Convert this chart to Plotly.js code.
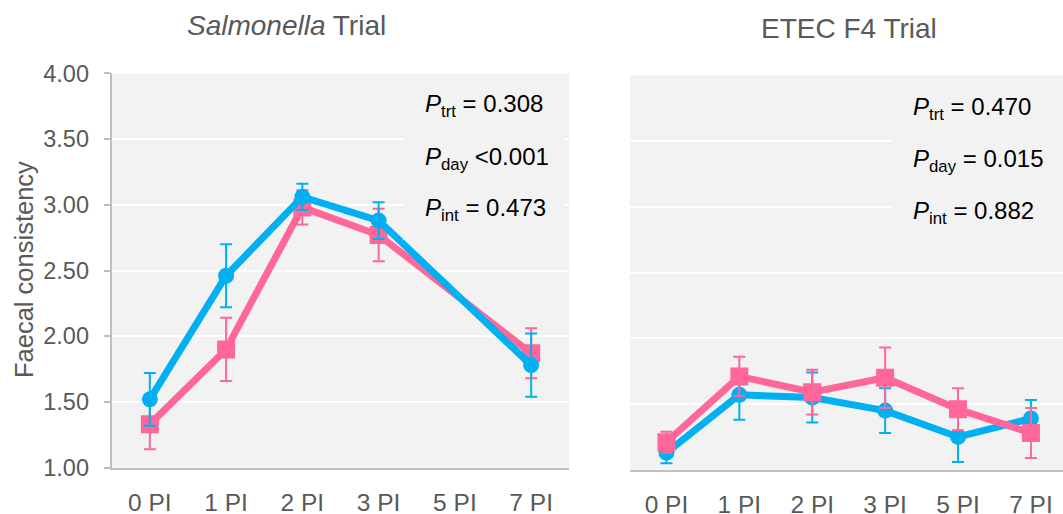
<!DOCTYPE html>
<html>
<head>
<meta charset="utf-8">
<script src="https://cdn.plot.ly/plotly-3.0.1.min.js"></script>
<style>html,body{margin:0;padding:0;background:#fff;}#chart{width:1063px;height:514px;}</style>
</head>
<body>
<div id="chart"></div>
<script>
// ---- data ----
const days = ['0 PI', '1 PI', '2 PI', '3 PI', '5 PI', '7 PI'];
const yTicks = [1.0, 1.5, 2.0, 2.5, 3.0, 3.5, 4.0];

// Salmonella trial (no 5 PI sample)
const salBlue = [1.52, 2.46, 3.06, 2.88, null, 1.78];
const salBlueErr = [0.20, 0.24, 0.10, 0.14, null, 0.24];
const salPink = [1.33, 1.90, 2.98, 2.77, null, 1.87];
const salPinkErr = [0.19, 0.24, 0.13, 0.20, null, 0.19];

// ETEC F4 trial
const etecBlue = [1.13, 1.57, 1.55, 1.45, 1.25, 1.39];
const etecBlueErr = [0.08, 0.19, 0.19, 0.17, 0.19, 0.14];
const etecPink = [1.21, 1.71, 1.59, 1.70, 1.46, 1.28];
const etecPinkErr = [0.08, 0.15, 0.17, 0.23, 0.16, 0.19];

const salStats = ['<i>P</i><sub>trt</sub> = 0.308', '<i>P</i><sub>day</sub> &lt;0.001', '<i>P</i><sub>int</sub> = 0.473'];
const etecStats = ['<i>P</i><sub>trt</sub> = 0.470', '<i>P</i><sub>day</sub> = 0.015', '<i>P</i><sub>int</sub> = 0.882'];

// ---- styling ----
const BLUE = '#00b0f0', PINK = '#ff6699', TXT = '#595959', AX = '#bfbfbf', BG = '#f2f2f2';
const W = 1063, H = 514;
const FONT = 'Liberation Sans, Arial, sans-serif';

function tr(y, err, color, sym, msize, xa, ya) {
  return {
    x: days, y: y, xaxis: xa, yaxis: ya, type: 'scatter', mode: 'lines+markers',
    connectgaps: true, showlegend: false, hoverinfo: 'skip',
    line: {color: color, width: 7},
    marker: {color: color, symbol: sym, size: msize},
    error_y: {type: 'data', array: err, visible: true, color: color, thickness: 2, width: 6}
  };
}

const traces = [
  tr(salPink, salPinkErr, PINK, 'square', 18, 'x', 'y'),
  tr(salBlue, salBlueErr, BLUE, 'circle', 16, 'x', 'y'),
  tr(etecBlue, etecBlueErr, BLUE, 'circle', 16, 'x2', 'y2'),
  tr(etecPink, etecPinkErr, PINK, 'square', 18, 'x2', 'y2')
];

const px = v => v / W, py = v => 1 - v / H;

const xBase = {
  type: 'category', categoryorder: 'array', categoryarray: days,
  showline: true, linecolor: AX, linewidth: 2, ticks: '', showgrid: false,
  tickfont: {family: FONT, size: 24.5, color: TXT}, ticklabelstandoff: 12,
  fixedrange: true, zeroline: false
};
const yBase = {
  range: [1, 4], tickvals: yTicks, tickformat: '.2f',
  showgrid: true, gridcolor: '#ffffff', gridwidth: 2, zeroline: false,
  tickfont: {family: FONT, size: 23.5, color: TXT}, fixedrange: true
};

const annotations = [];
function stat(texts, x0, ys) {
  texts.forEach((t, i) => annotations.push({
    xref: 'paper', yref: 'paper', x: px(x0), y: py(ys[i]), xanchor: 'left', yanchor: 'middle',
    text: t, showarrow: false, font: {family: FONT, size: 24, color: '#000000'}
  }));
}
stat(salStats, 423, [106, 158, 209]);
stat(etecStats, 911, [108, 160, 212]);

annotations.push({xref: 'paper', yref: 'paper', x: px(286), y: py(25), xanchor: 'center', yanchor: 'middle',
  text: '<i>Salmonella</i> Trial', showarrow: false, font: {family: FONT, size: 28, color: TXT}});
annotations.push({xref: 'paper', yref: 'paper', x: px(849), y: py(28), xanchor: 'center', yanchor: 'middle',
  text: 'ETEC F4 Trial', showarrow: false, font: {family: FONT, size: 28, color: TXT}});
annotations.push({xref: 'paper', yref: 'paper', x: px(24), y: py(270), xanchor: 'center', yanchor: 'middle',
  text: 'Faecal consistency', textangle: -90, showarrow: false, font: {family: FONT, size: 25.5, color: TXT}});

const shapes = [
  {type: 'rect', xref: 'paper', yref: 'paper', x0: px(403), x1: px(565), y0: py(240), y1: py(80),
   fillcolor: BG, line: {width: 0}, layer: 'above'},
  {type: 'rect', xref: 'paper', yref: 'paper', x0: px(892), x1: 1, y0: py(240), y1: py(82),
   fillcolor: BG, line: {width: 0}, layer: 'above'}
];

const layout = {
  width: W, height: H, margin: {l: 0, r: 0, t: 0, b: 0},
  paper_bgcolor: '#ffffff', plot_bgcolor: BG, showlegend: false,
  font: {family: FONT, color: TXT},
  xaxis: Object.assign({}, xBase, {domain: [px(111.7), px(569.3)], range: [-0.5, 5.5], anchor: 'y'}),
  yaxis: Object.assign({}, yBase, {domain: [1 - 467.7 / H, 1 - 73.3 / H], anchor: 'x',
    showline: true, linecolor: AX, linewidth: 2, ticks: 'outside', ticklen: 6, tickcolor: AX, tickwidth: 2,
    ticklabelstandoff: 10}),
  xaxis2: Object.assign({}, xBase, {domain: [px(630), 1], range: [-0.5, 5.44], anchor: 'y2'}),
  yaxis2: Object.assign({}, yBase, {domain: [1 - 469.8 / H, 1 - 75.3 / H], anchor: 'x2',
    showline: false, ticks: '', showticklabels: false}),
  annotations: annotations, shapes: shapes
};

Plotly.newPlot('chart', traces, layout, {staticPlot: true, displayModeBar: false});
</script>
</body>
</html>
